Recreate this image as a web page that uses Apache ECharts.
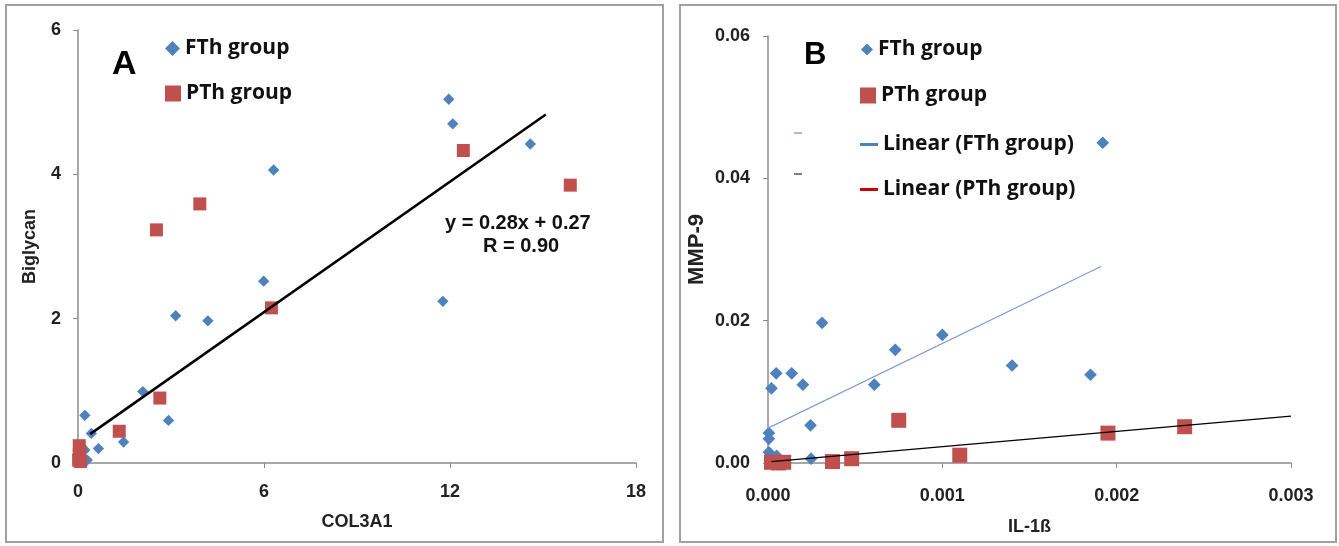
<!DOCTYPE html>
<html>
<head>
<meta charset="utf-8">
<script src="https://cdn.jsdelivr.net/npm/echarts@6/dist/echarts.min.js"></script>
<style>
html, body { margin: 0; padding: 0; background: #fff; }
#chart { width: 1339px; height: 546px; }
</style>
</head>
<body>
<div id="chart"></div>
<script>
// panel A : COL3A1 vs Biglycan
var fthA = [[11.96,5.04],[12.09,4.70],[14.59,4.42],[6.31,4.06],[11.77,2.24],[5.99,2.52],[3.15,2.04],[4.19,1.97],
    [2.09,0.99],[2.92,0.59],[0.22,0.66],[0.43,0.41],[0.66,0.20],[1.47,0.29],[0.22,0.18],[0.30,0.04],[0.04,0.09]];
var pthA = [[12.43,4.33],[15.88,3.85],[3.93,3.59],[2.53,3.23],[6.24,2.15],[2.64,0.90],[1.33,0.44],
    [0.04,0.24],[0.04,0.11],[0.02,0.04],[0.06,0.16],[0.08,0.02]];
var trendA = [[0.39,0.40],[15.09,4.83]];
var xTicksA = [0, 6, 12, 18];
var yTicksA = [0, 2, 4, 6];

// panel B : IL-1ß vs MMP-9
var fthB = [[0.00002,0.0105],[0.000047,0.0126],[0.000136,0.0126],[0.0002,0.011],[0.000244,0.0053],[0.000247,0.0006],
    [0.00031,0.0197],[0.00061,0.011],[0.00073,0.0159],[0.001,0.018],[0.0014,0.0137],[0.00185,0.0124],[0.00192,0.0450],
    [0.000005,0.0042],[0.000005,0.0034],[0.000005,0.0015],[0.00001,0.001],[0.00005,0.001],[0.00003,0.0004]];
var pthB = [[0.00075,0.006],[0.00195,0.0042],[0.00239,0.0051],[0.0011,0.0011],[0.00048,0.0006],[0.00037,0.0002],
    [0.00002,0.0001],[0.00006,0],[0.00009,0.0001]];
var trendFthB = [[0,0.0049],[0.00191,0.0276]];
var trendPthB = [[0.00002,0.0002],[0.003,0.0066]];
var xTicksB = [0, 0.001, 0.002, 0.003];
var yTicksB = [0, 0.02, 0.04, 0.06];

var blue = '#4f81bd';
var red = '#c0504d';
var axisGray = '#8c8c8c';
var sans = "'Liberation Sans', Arial, sans-serif";
var legendFont = "'Open Sans', Lato, sans-serif";

function makeAxis(idx, ticks, digits, name, gap, labelMargin, rotate, nameSize) {
    return {
        type: 'value',
        gridIndex: idx,
        min: ticks[0],
        max: ticks[ticks.length - 1],
        interval: ticks[1] - ticks[0],
        name: name,
        nameLocation: 'middle',
        nameGap: gap,
        nameRotate: rotate,
        nameTextStyle: { fontFamily: sans, fontWeight: 'bold', fontSize: nameSize, color: '#222' },
        splitLine: { show: false },
        axisLine: { show: true, lineStyle: { color: axisGray, width: 1.5 } },
        axisTick: { show: true, inside: false, length: 5, lineStyle: { color: axisGray } },
        axisLabel: {
            margin: labelMargin,
            fontFamily: sans, fontWeight: 'bold', fontSize: 18, color: '#222',
            formatter: function (v) { return v.toFixed(digits); }
        }
    };
}

// one legend box per row, so every row can have its own icon size
function legendRow(name, icon, w, h, left, center, color) {
    var item = { name: name, icon: icon, itemStyle: { opacity: 1 } };
    if (color) item.itemStyle.color = color;
    return {
        data: [item], left: left, top: center - 10,
        itemWidth: w, itemHeight: h, symbolRotate: 0, padding: 0,
        textStyle: { fontFamily: legendFont, fontWeight: 'bold', fontSize: 21, color: '#111' }
    };
}

var chart = echarts.init(document.getElementById('chart'));
chart.setOption({
    backgroundColor: '#fff',
    animation: false,
    grid: [
        { left: 78, right: 703, top: 30, bottom: 83 },
        { left: 768, right: 48, top: 36, bottom: 83 }
    ],
    xAxis: [
        makeAxis(0, xTicksA, 0, 'COL3A1', 50, 20, 0, 18),
        makeAxis(1, xTicksB, 3, 'IL-1ß', 55, 24, 0, 18)
    ],
    yAxis: [
        makeAxis(0, yTicksA, 0, 'Biglycan', 39, 17, 90, 18),
        makeAxis(1, yTicksB, 2, 'MMP-9', 60, 18, 90, 22)
    ],
    legend: [
        legendRow('FTh group', 'diamond', 15, 15, 165, 48),
        legendRow('PTh group', 'rect', 16, 16, 165, 93),
        legendRow('FTh group', 'diamond', 12, 12, 861, 49),
        legendRow('PTh group', 'rect', 16, 16, 860, 95),
        legendRow('Linear (FTh group)', 'rect', 18, 3, 860, 144, blue),
        legendRow('Linear (PTh group)', 'rect', 18, 3, 860, 189, '#cc0000')
    ],
    graphic: [
        { type: 'rect', shape: { x: 6, y: 5, width: 657, height: 537 }, style: { fill: 'none', stroke: '#a0a0a0', lineWidth: 2 } },
        { type: 'rect', shape: { x: 680, y: 5, width: 656, height: 537 }, style: { fill: 'none', stroke: '#a0a0a0', lineWidth: 2 } },
        { type: 'text', left: 112, top: 48, style: { text: 'A', font: 'bold 34px ' + sans, fill: '#000' } },
        { type: 'text', left: 804, top: 40, style: { text: 'B', font: 'bold 31px ' + sans, fill: '#000' } },
        { type: 'text', left: 445, top: 213, style: { text: 'y = 0.28x + 0.27', font: 'bold 20px ' + sans, fill: '#111' } },
        { type: 'text', left: 483, top: 236, style: { text: 'R = 0.90', font: 'bold 20px ' + sans, fill: '#111' } },
        { type: 'line', shape: { x1: 794, y1: 133, x2: 802, y2: 133 }, style: { stroke: blue, lineWidth: 1 } },
        { type: 'line', shape: { x1: 794, y1: 174, x2: 802, y2: 174 }, style: { stroke: '#000', lineWidth: 1 } }
    ],
    series: [
        {
            name: 'Linear A', type: 'line', xAxisIndex: 0, yAxisIndex: 0, data: trendA,
            symbol: 'none', lineStyle: { color: '#000', width: 2.5 }, z: 3
        },
        {
            name: 'FTh group', type: 'scatter', xAxisIndex: 0, yAxisIndex: 0, data: fthA,
            symbol: 'rect', symbolSize: 8, symbolRotate: 45, itemStyle: { color: blue, opacity: 1 }
        },
        {
            name: 'PTh group', type: 'scatter', xAxisIndex: 0, yAxisIndex: 0, data: pthA,
            symbol: 'rect', symbolSize: 13, itemStyle: { color: red, opacity: 1 }
        },
        {
            name: 'FTh group', type: 'scatter', xAxisIndex: 1, yAxisIndex: 1, data: fthB,
            symbol: 'rect', symbolSize: 9, symbolRotate: 45, itemStyle: { color: blue, opacity: 1 }
        },
        {
            name: 'PTh group', type: 'scatter', xAxisIndex: 1, yAxisIndex: 1, data: pthB,
            symbol: 'rect', symbolSize: 15, itemStyle: { color: red, opacity: 1 }
        },
        {
            name: 'Linear (FTh group)', type: 'line', xAxisIndex: 1, yAxisIndex: 1, data: trendFthB,
            symbol: 'none', lineStyle: { color: '#7f9fcf', width: 1.2 }, itemStyle: { color: blue }, z: 3
        },
        {
            name: 'Linear (PTh group)', type: 'line', xAxisIndex: 1, yAxisIndex: 1, data: trendPthB,
            symbol: 'none', lineStyle: { color: '#000', width: 1.2 }, itemStyle: { color: '#000' }, z: 3
        }
    ]
});
</script>
</body>
</html>
